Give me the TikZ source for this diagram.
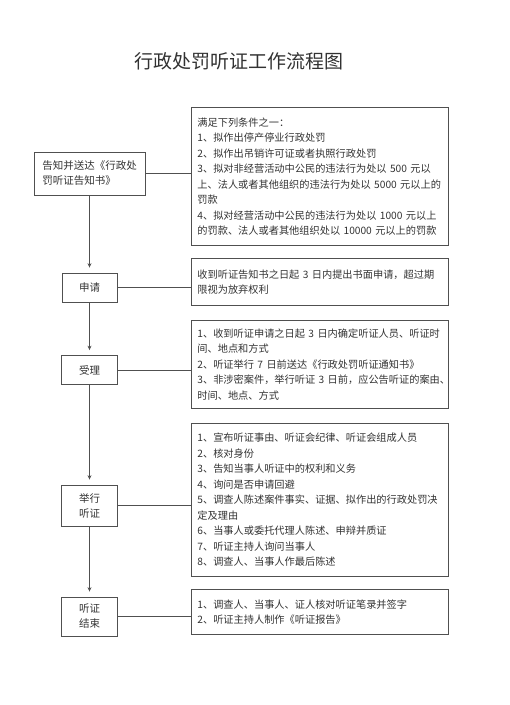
\documentclass[tikz,border=0pt]{standalone}
\usepackage{fontspec}
\newfontfamily\cjk{Noto Sans CJK SC}
\usetikzlibrary{arrows.meta}
\definecolor{frame}{RGB}{80,80,80}
\definecolor{ink}{RGB}{50,50,50}

\begin{document}
\begin{tikzpicture}[x=1pt, y=-1pt, ink,
    stepbox/.style={draw=frame, line width=0.8pt, align=center, inner sep=2pt,
        font=\cjk\fontsize{10.5}{15}\selectfont},
    infobox/.style={draw=frame, line width=0.8pt, anchor=north west, align=left,
        text width=245pt, inner xsep=6pt, inner ysep=4pt,
        font=\cjk\fontsize{10.2}{15.5}\selectfont},
    link/.style={draw=frame, line width=0.8pt},
    flow/.style={link, -{Stealth[length=4.5pt, width=4pt]}, shorten >=5pt}]

    \useasboundingbox (0, 0) rectangle (510, 705);

    \node[font=\cjk\fontsize{19}{22}\selectfont] (title) at (239, 61) {行政处罚听证工作流程图};

    \node[stepbox, align=left, minimum width=111pt, minimum height=43pt, inner xsep=7pt] (notify) at (89.5, 173.5)
        {告知并送达《行政处\\罚听证告知书》};
    \node[stepbox, minimum width=55pt, minimum height=29pt] (apply) at (89.5, 287.5) {申请};
    \node[stepbox, minimum width=56pt, minimum height=29pt] (accept) at (89.5, 370) {受理};
    \node[stepbox, minimum width=56pt, minimum height=41pt] (hold) at (89.5, 505.5) {举行\\听证};
    \node[stepbox, minimum width=56pt, minimum height=39pt] (finish) at (89.5, 616.5) {听证\\结束};

    \node[infobox, minimum height=138pt] (cond) at (191, 107)
        {满足下列条件之一：\\
         1、拟作出停产停业行政处罚\\
         2、拟作出吊销许可证或者执照行政处罚\\
         3、拟对非经营活动中公民的违法行为处以~500~元以\\
         上、法人或者其他组织的违法行为处以~5000~元以上的\\
         罚款\\
         4、拟对经营活动中公民的违法行为处以~1000~元以上\\
         的罚款、法人或者其他组织处以~10000~元以上的罚款};
    \node[infobox, minimum height=47pt] (request) at (191, 258)
        {收到听证告知书之日起~3~日内提出书面申请，超过期\\
         限视为放弃权利};
    \node[infobox, minimum height=88pt] (prepare) at (191, 320)
        {1、收到听证申请之日起~3~日内确定听证人员、听证时\\
         间、地点和方式\\
         2、听证举行~7~日前送达《行政处罚听证通知书》\\
         3、非涉密案件，举行听证~3~日前，应公告听证的案由、\\
         时间、地点、方式};
    \node[infobox, minimum height=153pt] (hearing) at (191, 423)
        {1、宣布听证事由、听证会纪律、听证会组成人员\\
         2、核对身份\\
         3、告知当事人听证中的权利和义务\\
         4、询问是否申请回避\\
         5、调查人陈述案件事实、证据、拟作出的行政处罚决\\
         定及理由\\
         6、当事人或委托代理人陈述、申辩并质证\\
         7、听证主持人询问当事人\\
         8、调查人、当事人作最后陈述};
    \node[infobox, minimum height=45pt] (report) at (191, 589)
        {1、调查人、当事人、证人核对听证笔录并签字\\
         2、听证主持人制作《听证报告》};

    \draw[flow] (notify) -- (apply);
    \draw[flow] (apply) -- (accept);
    \draw[flow] (accept) -- (hold);
    \draw[flow] (hold) -- (finish);

    \draw[link] (notify.east) -- (notify.east -| cond.west);
    \draw[link] (apply.east) -- (apply.east -| request.west);
    \draw[link] (accept.east) -- (accept.east -| prepare.west);
    \draw[link] (hold.east) -- (hold.east -| hearing.west);
    \draw[link] (finish.east) -- (finish.east -| report.west);

\end{tikzpicture}
\end{document}
